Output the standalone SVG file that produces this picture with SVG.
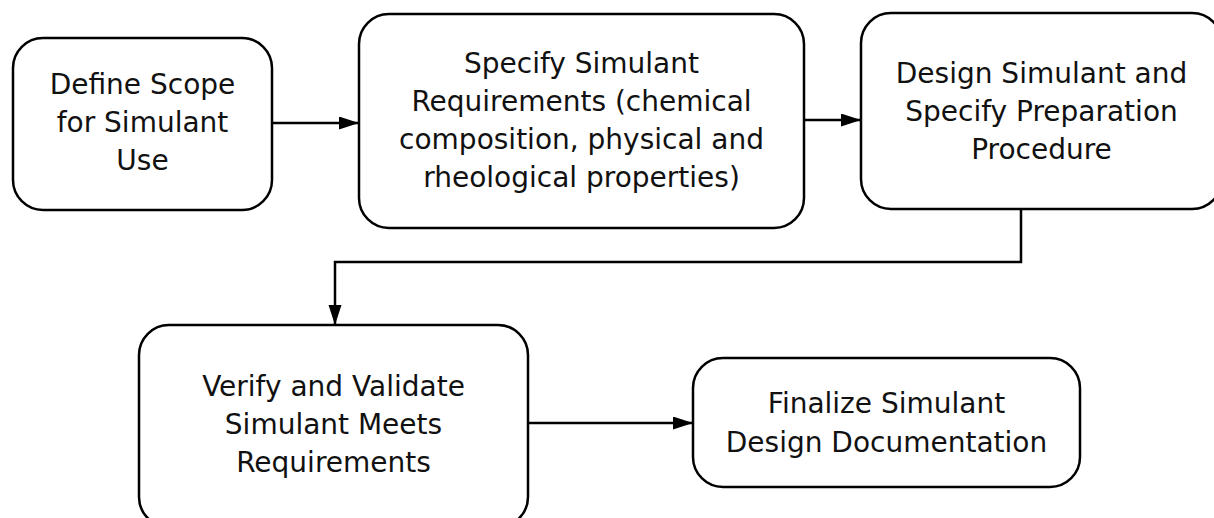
<svg xmlns="http://www.w3.org/2000/svg" width="1214" height="518" viewBox="0 0 1214 518">
<defs>
<style>
.box{fill:#fff;stroke:#000;stroke-width:2.5}
.lbl{font-family:"DejaVu Sans",Verdana,sans-serif;font-size:28px;fill:#111;text-anchor:middle}
.con{fill:none;stroke:#000;stroke-width:2.5}
</style>
<marker id="arr" markerUnits="userSpaceOnUse" markerWidth="22" markerHeight="14" refX="20" refY="6.5" orient="auto">
<path d="M0,0 L20,6.5 L0,13 z" fill="#000"/>
</marker>
</defs>
<rect width="1214" height="518" fill="#fff"/>
<g id="connectors">
<line class="con" x1="272" y1="123" x2="359" y2="123" marker-end="url(#arr)"/>
<line class="con" x1="804" y1="120" x2="861" y2="120" marker-end="url(#arr)"/>
<polyline class="con" points="1021,209 1021,262 335,262 335,325" marker-end="url(#arr)"/>
<line class="con" x1="528" y1="423" x2="693" y2="423" marker-end="url(#arr)"/>
</g>
<g id="n1">
<rect class="box" x="13" y="38" width="259" height="172" rx="30"/>
<text class="lbl" x="142.5" y="94">Define Scope</text>
<text class="lbl" x="142.5" y="132">for Simulant</text>
<text class="lbl" x="142.5" y="170">Use</text>
</g>
<g id="n2">
<rect class="box" x="359" y="14" width="445" height="214" rx="30"/>
<text class="lbl" x="581.5" y="73">Specify Simulant</text>
<text class="lbl" x="581.5" y="111">Requirements (chemical</text>
<text class="lbl" x="581.5" y="149">composition, physical and</text>
<text class="lbl" x="581.5" y="187">rheological properties)</text>
</g>
<g id="n3">
<rect class="box" x="861" y="13" width="361" height="196" rx="30"/>
<text class="lbl" x="1041.5" y="83">Design Simulant and</text>
<text class="lbl" x="1041.5" y="121">Specify Preparation</text>
<text class="lbl" x="1041.5" y="159">Procedure</text>
</g>
<g id="n4">
<rect class="box" x="139" y="325" width="389" height="202" rx="30"/>
<text class="lbl" x="333.5" y="396">Verify and Validate</text>
<text class="lbl" x="333.5" y="434">Simulant Meets</text>
<text class="lbl" x="333.5" y="472">Requirements</text>
</g>
<g id="n5">
<rect class="box" x="693" y="358" width="387" height="129" rx="30"/>
<text class="lbl" x="886.5" y="413">Finalize Simulant</text>
<text class="lbl" x="886.5" y="452">Design Documentation</text>
</g>
</svg>
